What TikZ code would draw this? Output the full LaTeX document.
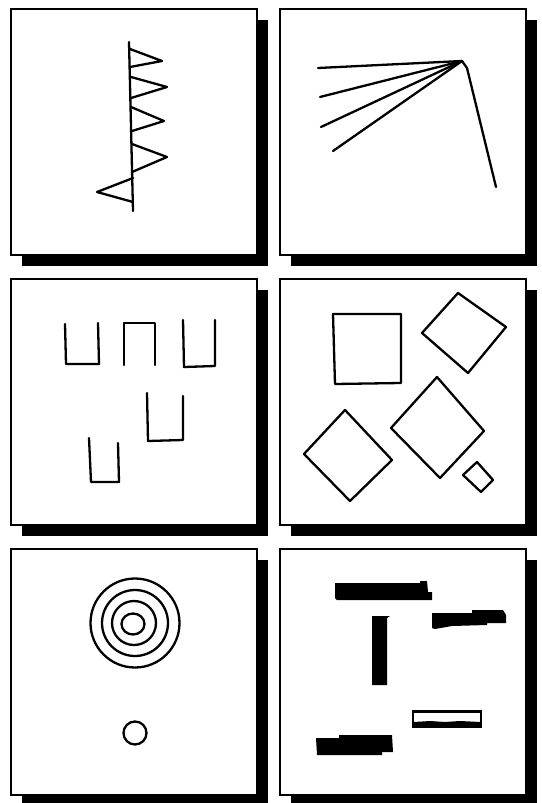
\documentclass[tikz,border=0pt]{standalone}
\begin{document}
\begin{tikzpicture}[x=1pt,y=-1pt,
  frame/.style={draw=black,line width=1.6pt,fill=white},
  shadowbox/.style={fill=black},
  ink/.style={draw=black,line width=2.3pt,line join=round,line cap=round},
  inkfill/.style={fill=black}]
\useasboundingbox (0,0) rectangle (541,803);
% panels with shadows
\foreach \px/\py in {11/9,280/9,11/279,280/279,11/549,280/549}{
  \fill[shadowbox] (\px+11,\py+11) rectangle (\px+257,\py+257);
  \path[frame] (\px,\py) rectangle (\px+246,\py+246);
}
% panel 1: spine with triangles
\draw[ink] (129,42) -- (133,211);
\draw[ink] (130,49) -- (162,61) -- (130,67);
\draw[ink] (131,77) -- (167,87) -- (131,98);
\draw[ink] (131,107) -- (164,121) -- (132,131);
\draw[ink] (132,144) -- (167,157) -- (132,172);
\draw[ink] (133,178) -- (97,192) -- (133,202);
% panel 2: fan of lines
\coordinate (apex) at (462,61);
\draw[ink] (318,68) -- (apex);
\draw[ink] (320,97) -- (apex);
\draw[ink] (321,127) -- (apex);
\draw[ink] (333,151) -- (apex);
\draw[ink] (apex) -- (467,68) -- (496,187);
% panel 3: U shapes
\draw[ink] (65,324) -- (66,364) -- (99,364) -- (98,323);
\draw[ink] (124,365) -- (124,323) -- (155,323) -- (155,365);
\draw[ink] (183,320) -- (184,367) -- (215,366) -- (215,320);
\draw[ink] (147,393) -- (148,441) -- (183,440) -- (183,396);
\draw[ink] (89,438) -- (91,482) -- (119,482) -- (118,443);
% panel 4: squares
\draw[ink] (333,314) -- (401,314) -- (401,383) -- (335,384) -- cycle;
\draw[ink] (458,293) -- (506,327) -- (468,373) -- (422,333) -- cycle;
\draw[ink] (345,410) -- (392,460) -- (350,501) -- (304,454) -- cycle;
\draw[ink] (437,377) -- (484,431) -- (440,478) -- (391,428) -- cycle;
\draw[ink] (477,462) -- (493,480) -- (481,492) -- (463,475) -- cycle;
% panel 5: circles
\draw[ink] (135,623) circle (44.5);
\draw[ink] (135,623) circle (33);
\draw[ink] (134,623) circle (22);
\draw[ink] (133,624) ellipse (11.5 and 10.5);
\draw[ink] (135,733) circle (11.5);
% panel 6: bars
\fill[inkfill] (335,583) -- (420,583) -- (420,581) -- (427,581) -- (428,592) -- (432,592) -- (432,600) -- (337,600) -- (335,598) -- cycle;
\fill[inkfill] (432,613) -- (472,613) -- (472,610) -- (503,610) -- (506,615) -- (506,623) -- (487,623) -- (487,625) -- (452,626) -- (435,629) -- (432,628) -- cycle;
\fill[inkfill] (372,616) -- (390,616) -- (387,618) -- (387,685) -- (372,685) -- cycle;
\draw[black,line width=2.2pt] (413,711.5) rectangle (481,727);
\fill[inkfill] (414,722) -- (430,721) -- (445,722) -- (460,721) -- (480,722) -- (480,726) -- (414,726) -- cycle;
\fill[inkfill] (316,738) -- (339,738) -- (339,735) -- (392,735) -- (393,752) -- (382,752) -- (382,755) -- (317,755) -- cycle;
\end{tikzpicture}
\end{document}
